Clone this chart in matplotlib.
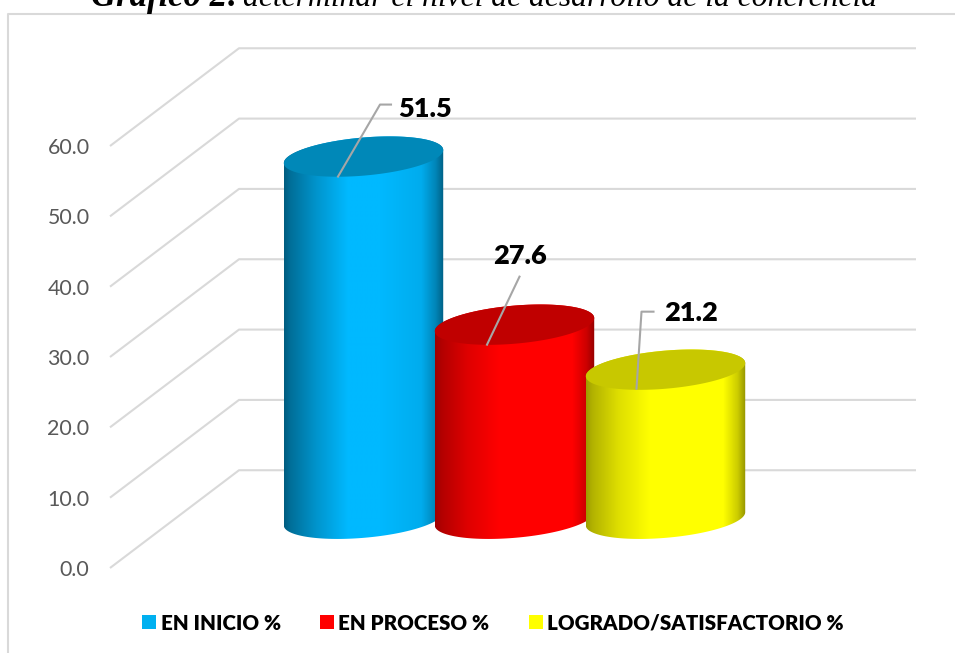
#!/usr/bin/env python
import numpy as np
import matplotlib
matplotlib.use('Agg')
import matplotlib.pyplot as plt
from matplotlib.colors import LinearSegmentedColormap
from matplotlib.patches import Polygon, Patch

categories = ['EN INICIO %', 'EN PROCESO %', 'LOGRADO/SATISFACTORIO %']
values = [51.5, 27.6, 21.2]
value_labels = ['51.5', '27.6', '21.2']
y_ticks = [0, 10, 20, 30, 40, 50, 60]
y_tick_labels = ['0.0', '10.0', '20.0', '30.0', '40.0', '50.0', '60.0']
title_bold = 'Gráfico 2:'
title_rest = 'determinar el nivel de desarrollo de la coherencia'

side_colors = ['#00B9FF', '#FF0000', '#FFFF00']
top_colors = ['#0088B8', '#C00000', '#C8C800']
legend_colors = ['#00B0F0', '#FF0000', '#FFFF00']

W, H = 955, 653
PX_PER_CAT = 151.0
PX_PER_VAL = 7.033
X0 = 363.5     # pixel x of first category
Y0 = 568.0     # pixel y of value 0 at the front of the floor
FLOOR = 7.0    # the bars stand this far up the depth of the floor
DEPTH = 13.9
A, B, TILT = 80.0, 19.0, np.radians(5.0)

def px_x(p):
    return (p - X0) / PX_PER_CAT

def px_y(p):
    return (Y0 - p) / PX_PER_VAL

def ring(t):
    # ellipse offsets, in data units
    dx = A * np.cos(t) * np.cos(TILT) - B * np.sin(t) * np.sin(TILT)
    dy = A * np.cos(t) * np.sin(TILT) + B * np.sin(t) * np.cos(TILT)
    return dx / PX_PER_CAT, dy / PX_PER_VAL

fig = plt.figure(figsize=(W / 100, H / 100), dpi=100)
ax = fig.add_axes([0, 0, 1, 1])
ax.set_xlim(px_x(0), px_x(W))
ax.set_ylim(px_y(H), px_y(0))
for s in ax.spines.values():
    s.set_visible(False)
ax.set_xticks([])
ax.set_yticks(y_ticks)
ax.set_yticklabels(y_tick_labels, family='Lato', fontsize=15.4, color='#595959')
ax.tick_params(axis='y', length=0, pad=-64.5)

# chart frame, runs off the right and bottom of the picture
ax.plot([px_x(W + 5), px_x(8), px_x(8)], [px_y(14), px_y(14), px_y(H + 5)],
        color='#D9D9D9', lw=1.5, zorder=1, clip_on=True)

# walls and floor grid
for v in y_ticks:
    ax.plot([px_x(110), px_x(239), px_x(916)], [v, v + DEPTH, v + DEPTH],
            color='#D9D9D9', lw=1.5, zorder=1, solid_capstyle='butt')

# shading across a cylinder, from left to right
stops = [0.0, 0.04, 0.2, 0.4, 0.6, 0.86, 0.95, 1.0]
shades = [[0.5, 0.6, 0.8, 1.0, 1.0, 0.93, 0.72, 0.52],
          [0.62, 0.7, 0.87, 1.0, 1.0, 1.0, 0.8, 0.58],
          [0.62, 0.7, 0.87, 1.0, 1.0, 1.0, 0.8, 0.58]]

t0 = np.arctan2(-B * np.sin(TILT), A * np.cos(TILT))
for i, v in enumerate(values):
    base = FLOOR
    top = FLOOR + v
    lx, ly = ring(np.linspace(t0, t0 - np.pi, 80))
    ux, uy = ring(np.linspace(t0 + np.pi, t0, 80))
    xs = np.concatenate([i + lx, i + ux])
    ys = np.concatenate([base + ly, top + uy])
    body = Polygon(np.column_stack([xs, ys]), closed=True, facecolor='none',
                   edgecolor='none', zorder=2 + i)
    ax.add_patch(body)
    rgb = np.array(matplotlib.colors.to_rgb(side_colors[i]))
    cmap = LinearSegmentedColormap.from_list(
        'c%d' % i, [(p, tuple(rgb * f)) for p, f in zip(stops, shades[i])])
    im = ax.imshow(np.linspace(0, 1, 256).reshape(1, -1), cmap=cmap, aspect='auto',
                   extent=[xs.min(), xs.max(), ys.min(), ys.max()], zorder=2 + i)
    im.set_clip_path(body)
    tx, ty = ring(np.linspace(0, 2 * np.pi, 160))
    ax.add_patch(Polygon(np.column_stack([i + tx, top + ty]), closed=True,
                         facecolor=top_colors[i], edgecolor='none', zorder=2 + i))

ax.set_xlim(px_x(0), px_x(W))
ax.set_ylim(px_y(H), px_y(0))

# leader lines and value labels, offsets in pixels from the top centre of a bar
leader_offsets = [[(-25.5, 20), (16.5, -52), (27.5, -52)],
                  [(-27.5, 20), (5, -48)],
                  [(-29, 19), (-24, -58), (-12, -58)]]
label_offsets = [(61.5, -48), (5, -69), (25.5, -57)]
for i, v in enumerate(values):
    top = FLOOR + v
    ax.plot([i + o[0] / PX_PER_CAT for o in leader_offsets[i]],
            [top - o[1] / PX_PER_VAL for o in leader_offsets[i]],
            color='#A6A6A6', lw=1.5, zorder=8)
    ax.text(i + label_offsets[i][0] / PX_PER_CAT, top - label_offsets[i][1] / PX_PER_VAL,
            value_labels[i], family='Lato', weight='heavy', fontsize=19.5,
            color='black', ha='center', va='center', zorder=9)

# title is cut by the top of the picture, both parts share one baseline
ax.text(px_x(91), px_y(6.5), title_bold, family='Liberation Serif', style='italic',
        weight='bold', fontsize=25, ha='left', va='baseline')
ax.text(px_x(243), px_y(6.5), title_rest, family='Liberation Serif', style='italic',
        fontsize=22.8, ha='left', va='baseline')

handles = [Patch(facecolor=c, edgecolor='none') for c in legend_colors]
leg = ax.legend(handles, categories, ncol=3, loc='center', frameon=False,
                bbox_to_anchor=(493 / W, 1 - 623 / H), bbox_transform=fig.transFigure,
                prop={'family': 'Lato', 'weight': 'heavy', 'size': 14.8},
                handlelength=0.68, handleheight=0.68, handletextpad=0.22, columnspacing=1.9)

fig.savefig('out.png', dpi=100)
